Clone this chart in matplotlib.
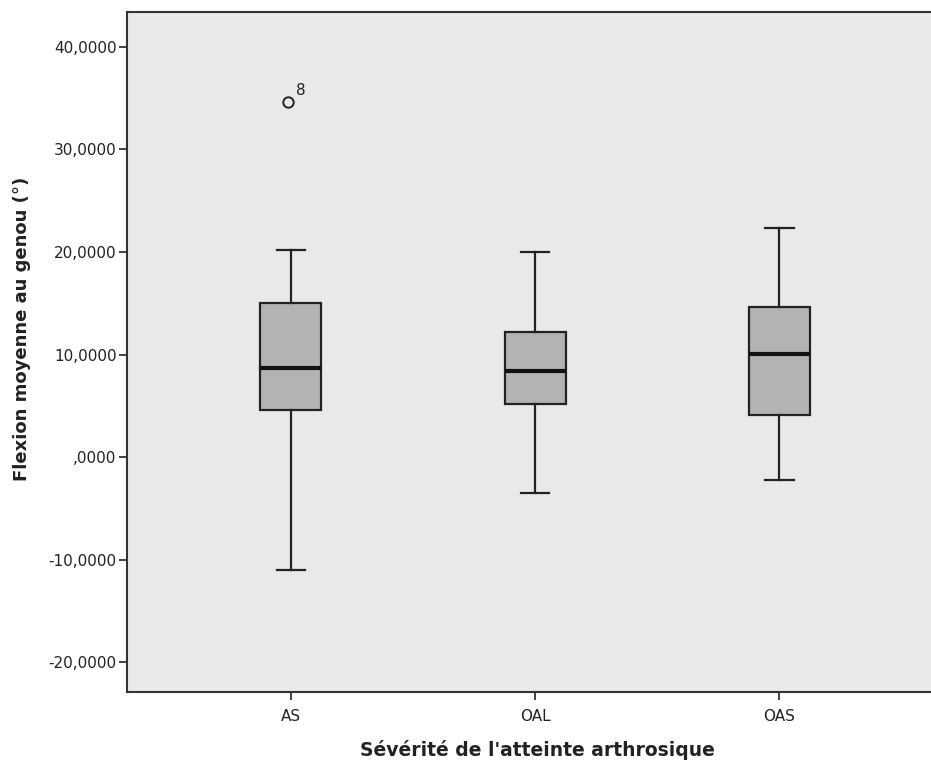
import matplotlib
matplotlib.use("Agg")
import matplotlib.pyplot as plt
from matplotlib.ticker import FixedLocator, FuncFormatter

categories = ["AS", "OAL", "OAS"]
whislo = [-11.0, -3.5, -2.2]
q1 = [4.6, 5.2, 4.1]
med = [8.7, 8.4, 10.1]
q3 = [15.0, 12.2, 14.6]
whishi = [20.2, 20.0, 22.3]
outliers = [[34.6], [], []]
outlier_labels = [["8"], [], []]
yticks = [-20, -10, 0, 10, 20, 30, 40]

plt.rcParams['font.family'] = ['DejaVu Sans']

fig = plt.figure(figsize=(9.31, 7.63), dpi=100)
ax = fig.add_axes([127/931, 1-692/763, 1-127/931, (692-12)/763])
ax.set_facecolor('#e9e9e9')

stats = []
for i, c in enumerate(categories):
    stats.append(dict(label=c, whislo=whislo[i], q1=q1[i], med=med[i],
                      q3=q3[i], whishi=whishi[i], fliers=[]))
pos = list(range(len(categories)))
ax.bxp(stats, positions=pos, widths=0.25, capwidths=0.115, patch_artist=True,
       showfliers=False,
       boxprops=dict(facecolor='#b3b3b3', edgecolor='#222222', linewidth=1.6),
       medianprops=dict(color='#111111', linewidth=3),
       whiskerprops=dict(color='#222222', linewidth=1.6),
       capprops=dict(color='#222222', linewidth=1.6))

for i, (ol, lb) in enumerate(zip(outliers, outlier_labels)):
    for v, t in zip(ol, lb):
        ax.plot([pos[i] - 0.012], [v], marker='o', markersize=7.5, markerfacecolor='none',
                markeredgecolor='#222222', markeredgewidth=1.4, linestyle='none')
        ax.annotate(t, xy=(pos[i] - 0.012, v), xytext=(6, 5), textcoords='offset points',
                    fontsize=11, color='#222222')

ax.set_xlim(-0.67, 2.62)
ax.set_ylim(-22.9, 43.4)
ax.yaxis.set_major_locator(FixedLocator(yticks))
def fmt(v, p):
    if abs(v) < 1e-9:
        return ",0000"
    return f"{v:.4f}".replace(".", ",")
ax.yaxis.set_major_formatter(FuncFormatter(fmt))
ax.set_xticks(pos)
ax.set_xticklabels(categories)
ax.tick_params(axis='both', labelsize=11, color='#222222', length=5.5, width=1.2,
               labelcolor='#222222')
ax.tick_params(axis='x', pad=7)
ax.tick_params(axis='y', pad=2)
for s in ['left', 'bottom', 'top']:
    ax.spines[s].set_linewidth(1.5)
    ax.spines[s].set_color('#333333')
ax.spines['right'].set_visible(False)

ax.set_ylabel("Flexion moyenne au genou (°)", fontsize=13, fontweight='bold',
              color='#222222')
ax.yaxis.set_label_coords((22-127)/804, (692-329)/680)
ax.set_xlabel("Sévérité de l'atteinte arthrosique", fontsize=13.5, fontweight='bold',
              color='#222222')
ax.xaxis.set_label_coords((537-127)/804, -(750-692)/680)
ax.xaxis.label.set_va('center')
ax.yaxis.label.set_va('center')

fig.savefig("out.png", dpi=100)
